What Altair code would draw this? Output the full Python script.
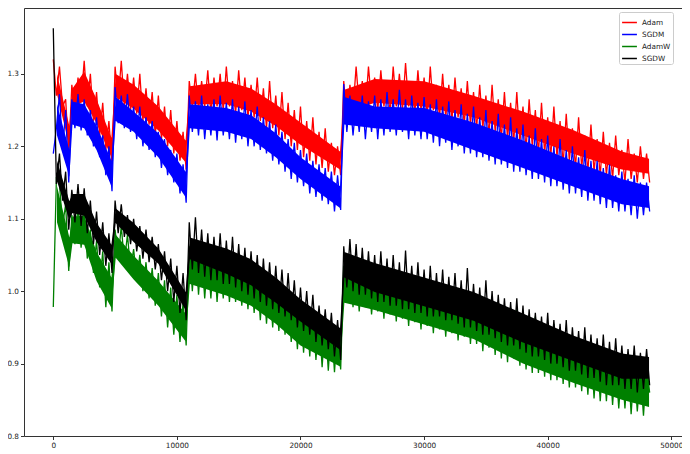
import altair as alt
import pandas as pd

NAMES = ["Adam", "SGDM", "AdamW", "SGDW"]
COLORS = ["#ff0000", "#0000ff", "#008000", "#000000"]

# Noisy trace: readings every 250 steps (upper excursion at k*500, lower excursion at k*500+250)
ADAM_HI = [1.32, 1.31, 1.265,
           1.285, 1.295, 1.318, 1.30, 1.275, 1.26, 1.235,
           1.31, 1.318, 1.30, 1.295, 1.30, 1.28, 1.275, 1.27, 1.255, 1.25, 1.235, 1.22,
           1.29, 1.30, 1.29, 1.305, 1.295, 1.30, 1.31, 1.29, 1.305, 1.295, 1.285, 1.295, 1.28, 1.29, 1.27,
           1.275, 1.26, 1.25, 1.255, 1.235, 1.24, 1.22, 1.225, 1.205, 1.20,
           1.29, 1.285, 1.31, 1.29, 1.31, 1.295, 1.305, 1.29, 1.31, 1.30,
           1.315, 1.29, 1.305, 1.295, 1.31, 1.285, 1.30, 1.285, 1.295, 1.28,
           1.29, 1.275, 1.285, 1.27, 1.285, 1.265, 1.275, 1.26, 1.275, 1.255,
           1.265, 1.25, 1.26, 1.24, 1.255, 1.235, 1.245, 1.225, 1.24, 1.215,
           1.23, 1.21, 1.22, 1.205, 1.215, 1.195, 1.21, 1.19, 1.20, 1.19]
ADAM_LO = [1.27, 1.255, 1.19,
           1.25, 1.262, 1.255, 1.235, 1.215, 1.195, 1.175,
           1.262, 1.255, 1.25, 1.245, 1.235, 1.23, 1.215, 1.21, 1.20, 1.19, 1.18, 1.168,
           1.255, 1.25, 1.255, 1.245, 1.255, 1.25, 1.255, 1.245, 1.25, 1.24, 1.24, 1.235, 1.225, 1.225, 1.215,
           1.21, 1.20, 1.195, 1.185, 1.18, 1.175, 1.17, 1.165, 1.16, 1.16,
           1.235, 1.25, 1.255, 1.25, 1.26, 1.25, 1.255, 1.245, 1.255, 1.25,
           1.255, 1.245, 1.25, 1.24, 1.25, 1.24, 1.24, 1.235, 1.24, 1.23,
           1.23, 1.225, 1.225, 1.215, 1.22, 1.21, 1.21, 1.205, 1.205, 1.195,
           1.20, 1.19, 1.19, 1.185, 1.185, 1.175, 1.18, 1.17, 1.17, 1.165,
           1.165, 1.16, 1.16, 1.155, 1.16, 1.15, 1.155, 1.15, 1.155, 1.15]

SGDM_HI = [1.19, 1.272, 1.25,
           1.265, 1.272, 1.265, 1.25, 1.24, 1.215, 1.20,
           1.282, 1.27, 1.272, 1.255, 1.255, 1.24, 1.235, 1.22, 1.21, 1.195, 1.19, 1.175,
           1.27, 1.262, 1.27, 1.258, 1.265, 1.27, 1.26, 1.265, 1.255, 1.262, 1.25, 1.255, 1.24, 1.235, 1.23,
           1.22, 1.21, 1.205, 1.195, 1.19, 1.18, 1.175, 1.17, 1.165, 1.16,
           1.286, 1.27, 1.262, 1.27, 1.262, 1.27, 1.265, 1.275, 1.265, 1.278,
           1.265, 1.27, 1.26, 1.268, 1.258, 1.265, 1.255, 1.262, 1.25, 1.258,
           1.245, 1.255, 1.24, 1.25, 1.235, 1.245, 1.23, 1.24, 1.225, 1.23,
           1.215, 1.225, 1.21, 1.215, 1.20, 1.21, 1.195, 1.20, 1.185, 1.195,
           1.18, 1.18, 1.17, 1.175, 1.16, 1.165, 1.155, 1.16, 1.15, 1.15]
SGDM_LO = [1.225, 1.195, 1.15,
           1.225, 1.222, 1.215, 1.20, 1.185, 1.16, 1.138,
           1.232, 1.225, 1.22, 1.21, 1.20, 1.195, 1.185, 1.17, 1.16, 1.15, 1.135, 1.122,
           1.22, 1.215, 1.21, 1.215, 1.208, 1.215, 1.21, 1.205, 1.21, 1.20, 1.20, 1.195, 1.19, 1.18, 1.175,
           1.165, 1.155, 1.15, 1.145, 1.135, 1.13, 1.125, 1.12, 1.11, 1.112,
           1.22, 1.215, 1.22, 1.21, 1.22, 1.21, 1.215, 1.22, 1.215, 1.22,
           1.21, 1.215, 1.21, 1.21, 1.205, 1.20, 1.205, 1.195, 1.20, 1.19,
           1.19, 1.185, 1.185, 1.18, 1.175, 1.175, 1.17, 1.165, 1.165, 1.16,
           1.155, 1.155, 1.15, 1.145, 1.145, 1.14, 1.135, 1.135, 1.13, 1.125,
           1.125, 1.12, 1.115, 1.115, 1.11, 1.11, 1.105, 1.10, 1.105, 1.11]

ADAMW_HI = [0.978, 1.148, 1.12,
            1.105, 1.118, 1.112, 1.085, 1.07, 1.055, 1.04,
            1.085, 1.09, 1.078, 1.058, 1.05, 1.04, 1.032, 1.025, 1.015, 1.005, 0.995, 0.985,
            1.062, 1.065, 1.055, 1.05, 1.055, 1.045, 1.05, 1.04, 1.045, 1.035, 1.035, 1.025, 1.02, 1.015, 1.01,
            1.005, 1.0, 0.99, 0.985, 0.98, 0.972, 0.965, 0.96, 0.955, 0.95,
            1.035, 1.03, 1.035, 1.025, 1.03, 1.02, 1.025, 1.025, 1.02, 1.025,
            1.015, 1.02, 1.01, 1.015, 1.005, 1.01, 1.005, 1.0, 1.005, 0.995,
            1.0, 0.99, 0.995, 0.985, 0.98, 0.985, 0.975, 0.97, 0.975, 0.965,
            0.96, 0.965, 0.955, 0.95, 0.955, 0.945, 0.94, 0.94, 0.93, 0.925,
            0.925, 0.915, 0.91, 0.915, 0.905, 0.90, 0.905, 0.895, 0.89, 0.895]
ADAMW_LO = [1.155, 1.09, 1.028,
            1.065, 1.06, 1.045, 1.025, 1.005, 0.978, 0.972,
            1.045, 1.04, 1.03, 1.015, 1.0, 0.99, 0.98, 0.965, 0.95, 0.94, 0.93, 0.925,
            1.0, 0.995, 0.99, 0.99, 0.985, 0.99, 0.985, 0.985, 0.98, 0.975, 0.97, 0.96, 0.955, 0.95, 0.945,
            0.94, 0.93, 0.92, 0.915, 0.91, 0.905, 0.895, 0.89, 0.888, 0.892,
            0.985, 0.978, 0.972, 0.978, 0.968, 0.972, 0.962, 0.968, 0.958, 0.962,
            0.952, 0.957, 0.947, 0.952, 0.942, 0.947, 0.937, 0.942, 0.932, 0.937,
            0.927, 0.927, 0.917, 0.922, 0.912, 0.907, 0.902, 0.907, 0.897, 0.892,
            0.887, 0.887, 0.882, 0.877, 0.877, 0.872, 0.867, 0.867, 0.862, 0.857,
            0.852, 0.848, 0.848, 0.843, 0.838, 0.838, 0.83, 0.834, 0.828, 0.86]

SGDW_HI = [1.363, 1.19, 1.165,
           1.14, 1.148, 1.142, 1.125, 1.11, 1.095, 1.08,
           1.125, 1.12, 1.105, 1.10, 1.09, 1.085, 1.075, 1.065, 1.055, 1.045, 1.035, 1.025,
           1.095, 1.102, 1.085, 1.08, 1.075, 1.08, 1.07, 1.075, 1.065, 1.06, 1.055, 1.05, 1.045, 1.04, 1.035,
           1.03, 1.025, 1.015, 1.005, 1.0, 0.995, 0.98, 0.975, 0.97, 0.96,
           1.062, 1.072, 1.065, 1.06, 1.055, 1.05, 1.055, 1.045, 1.05, 1.04,
           1.056, 1.035, 1.04, 1.03, 1.035, 1.025, 1.03, 1.02, 1.025, 1.015,
           1.032, 1.01, 1.005, 1.015, 1.0, 0.995, 0.99, 0.985, 0.99, 0.98,
           0.975, 0.97, 0.965, 0.97, 0.96, 0.955, 0.96, 0.95, 0.945, 0.95,
           0.94, 0.935, 0.94, 0.93, 0.935, 0.925, 0.92, 0.925, 0.915, 0.92]
SGDW_LO = [1.148, 1.125, 1.085,
           1.095, 1.09, 1.08, 1.065, 1.05, 1.035, 1.025,
           1.08, 1.075, 1.065, 1.055, 1.045, 1.04, 1.03, 1.015, 1.0, 0.985, 0.97, 0.96,
           1.03, 1.025, 1.02, 1.015, 1.015, 1.01, 1.01, 1.005, 1.0, 0.995, 0.99, 0.985, 0.98, 0.975, 0.97,
           0.965, 0.96, 0.95, 0.945, 0.94, 0.93, 0.925, 0.92, 0.91, 0.905,
           1.005, 1.0, 0.995, 0.995, 0.99, 0.985, 0.985, 0.98, 0.98, 0.975,
           0.975, 0.97, 0.97, 0.965, 0.965, 0.965, 0.96, 0.96, 0.955, 0.95,
           0.95, 0.945, 0.94, 0.94, 0.935, 0.93, 0.925, 0.925, 0.92, 0.915,
           0.91, 0.91, 0.905, 0.90, 0.90, 0.895, 0.89, 0.89, 0.885, 0.88,
           0.88, 0.875, 0.87, 0.87, 0.87, 0.865, 0.865, 0.86, 0.865, 0.87]

# Dense core of each noisy band, read at a few steps (segment starts/ends and in between)
CORE_STEPS = [300, 1300,
              1550, 2500, 3500, 4700,
              5050, 6500, 8500, 10700,
              11050, 14000, 16000, 18000, 20000, 23200,
              23550, 26000, 30000, 34000, 38000, 42000, 46000, 48200]
ADAM_CORE_LO = [1.272, 1.20, 1.255, 1.262, 1.232, 1.185, 1.268, 1.252, 1.222, 1.178, 1.258, 1.258,
                1.248, 1.228, 1.202, 1.168, 1.245, 1.26, 1.255, 1.24, 1.215, 1.19, 1.168, 1.162]
ADAM_CORE_HI = [1.30, 1.228, 1.28, 1.303, 1.265, 1.212, 1.30, 1.285, 1.255, 1.208, 1.283, 1.29,
                1.28, 1.258, 1.233, 1.193, 1.278, 1.293, 1.29, 1.27, 1.248, 1.223, 1.193, 1.183]
SGDM_CORE_LO = [1.215, 1.158, 1.23, 1.225, 1.195, 1.145, 1.235, 1.22, 1.185, 1.13, 1.225, 1.22,
                1.21, 1.185, 1.155, 1.115, 1.23, 1.225, 1.22, 1.195, 1.17, 1.145, 1.12, 1.115]
SGDM_CORE_HI = [1.258, 1.195, 1.262, 1.258, 1.228, 1.18, 1.268, 1.248, 1.218, 1.165, 1.258, 1.253,
                1.243, 1.218, 1.185, 1.145, 1.268, 1.255, 1.253, 1.233, 1.208, 1.18, 1.155, 1.145]
ADAMW_CORE_LO = [1.095, 1.033, 1.066, 1.064, 1.014, 0.977, 1.046, 1.016, 0.98, 0.931, 1.01, 0.994,
                 0.98, 0.955, 0.925, 0.896, 0.984, 0.974, 0.954, 0.934, 0.9, 0.874, 0.85, 0.84]
ADAMW_CORE_HI = [1.145, 1.074, 1.103, 1.104, 1.054, 1.019, 1.078, 1.049, 1.014, 0.969, 1.049, 1.034,
                 1.019, 0.994, 0.969, 0.934, 1.024, 1.014, 0.994, 0.974, 0.944, 0.914, 0.889, 0.879]
SGDW_CORE_LO = [1.152, 1.098, 1.108, 1.104, 1.068, 1.038, 1.094, 1.068, 1.038, 0.974, 1.044, 1.024,
                1.008, 0.984, 0.958, 0.919, 1.019, 0.999, 0.979, 0.959, 0.929, 0.904, 0.879, 0.879]
SGDW_CORE_HI = [1.18, 1.124, 1.134, 1.134, 1.094, 1.064, 1.114, 1.094, 1.059, 0.999, 1.074, 1.059,
                1.044, 1.019, 0.989, 0.949, 1.054, 1.039, 1.019, 0.999, 0.969, 0.939, 0.914, 0.909]

X_TICKS = [0, 10000, 20000, 30000, 40000, 50000]
Y_TICKS = [0.8, 0.9, 1.0, 1.1, 1.2, 1.3]

TRACES = {"Adam": (ADAM_HI, ADAM_LO), "SGDM": (SGDM_HI, SGDM_LO),
          "AdamW": (ADAMW_HI, ADAMW_LO), "SGDW": (SGDW_HI, SGDW_LO)}
CORES = {"Adam": (ADAM_CORE_LO, ADAM_CORE_HI), "SGDM": (SGDM_CORE_LO, SGDM_CORE_HI),
         "AdamW": (ADAMW_CORE_LO, ADAMW_CORE_HI), "SGDW": (SGDW_CORE_LO, SGDW_CORE_HI)}


def line_frame(name):
    hi, lo = TRACES[name]
    rows = []
    for i, (a, b) in enumerate(zip(hi, lo)):
        rows.append({"step": i * 500, "loss": a, "optimizer": name})
        rows.append({"step": i * 500 + 250, "loss": b, "optimizer": name})
    return pd.DataFrame(rows)


def core_frame(name):
    lo, hi = CORES[name]
    return pd.DataFrame({"step": CORE_STEPS, "lo": lo, "hi": hi, "optimizer": name})


FONT = "DejaVu Sans"
x_enc = alt.X("step:Q", scale=alt.Scale(domain=[-2370, 50866], nice=False, zero=False),
              axis=alt.Axis(values=X_TICKS, format="d", title=None))
y_scale = alt.Scale(domain=[0.8, 1.391], nice=False, zero=False)
y_axis = alt.Axis(values=Y_TICKS, format=".1f", title=None)
color_scale = alt.Scale(domain=NAMES, range=COLORS)
legend = alt.Legend(title=None, orient="none", legendX=595, legendY=4,
                    symbolType="stroke", symbolStrokeWidth=1.5, symbolSize=220,
                    labelFontSize=7.3, labelFont=FONT, labelColor="#222",
                    strokeColor="#cccccc", fillColor="white", padding=2,
                    cornerRadius=2, rowPadding=0, labelOffset=4)
color_enc = alt.Color("optimizer:N", scale=color_scale, legend=legend)

layers = []
for name in NAMES:
    layers.append(
        alt.Chart(core_frame(name)).mark_area(opacity=1, interpolate="linear").encode(
            x=x_enc,
            y=alt.Y("lo:Q", scale=y_scale, axis=y_axis),
            y2="hi:Q",
            color=color_enc,
        )
    )
    layers.append(
        alt.Chart(line_frame(name)).mark_line(strokeWidth=1.3).encode(
            x=x_enc,
            y=alt.Y("loss:Q", scale=y_scale, axis=y_axis),
            color=color_enc,
        )
    )

chart = alt.layer(*layers).properties(
    width=658, height=428,
    autosize=alt.AutoSizeParams(type="none"),
    padding={"left": 16, "top": 0, "right": 0, "bottom": 18},
).configure_view(stroke="#333333", strokeWidth=1).configure_axis(
    grid=False, domain=False, tickColor="#333333", tickSize=3.5,
    labelFontSize=7.3, labelFont=FONT, labelColor="#222222", labelPadding=2,
)

chart.save("out.html", embed_options={"renderer": "svg", "actions": False})
